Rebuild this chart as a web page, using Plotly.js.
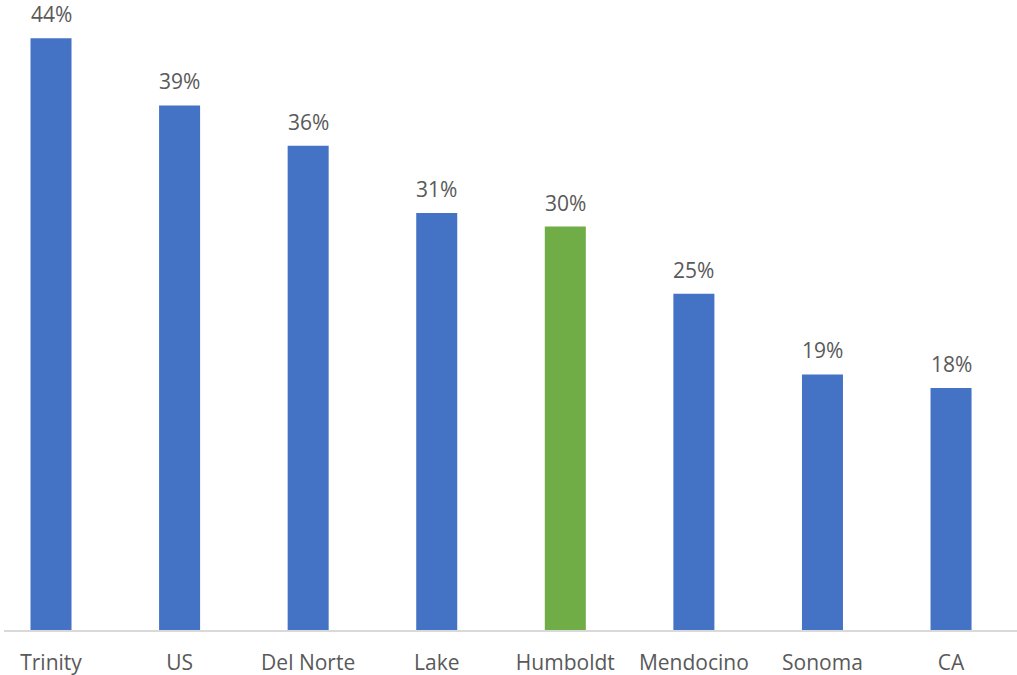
<!DOCTYPE html>
<html>
<head>
<meta charset="utf-8">
<script src="https://cdn.plot.ly/plotly-3.0.1.min.js"></script>
<style>html,body{margin:0;padding:0;background:#fff;}#chart{width:1017px;height:675px;}</style>
</head>
<body>
<div id="chart"></div>
<script>
const categories = ["Trinity", "US", "Del Norte", "Lake", "Humboldt", "Mendocino", "Sonoma", "CA"];
const values = [44, 39, 36, 31, 30, 25, 19, 18];
const highlight = "Humboldt";

const blue = "#4472C4";
const green = "#70AD47";
const colors = categories.map(c => c === highlight ? green : blue);

const trace = {
  type: "bar",
  x: categories,
  y: values,
  marker: {color: colors},
  width: 0.319,
  hoverinfo: "x+y",
  cliponaxis: false
};

const annotations = categories.map((c, i) => ({
  x: c,
  y: values[i],
  text: values[i] + "%",
  showarrow: false,
  xanchor: "center",
  yanchor: "bottom",
  yshift: 8,
  font: {family: "Open Sans, sans-serif", size: 21, color: "#595959"}
}));

const layout = {
  width: 1017,
  height: 675,
  margin: {l: 4, r: 0, t: 0, b: 45},
  paper_bgcolor: "#fff",
  plot_bgcolor: "#fff",
  showlegend: false,
  xaxis: {
    type: "category",
    range: [-0.3656, 7.513],
    showgrid: false,
    showline: true,
    linecolor: "#d9d9d9",
    linewidth: 1.5,
    ticks: "",
    ticklabelstandoff: 13,
    tickfont: {family: "Open Sans, sans-serif", size: 21, color: "#595959"},
    fixedrange: true
  },
  yaxis: {
    range: [0, 46.84],
    visible: false,
    showgrid: false,
    zeroline: false,
    fixedrange: true
  },
  annotations: annotations
};

Plotly.newPlot("chart", [trace], layout, {displayModeBar: false, staticPlot: true});
</script>
</body>
</html>
